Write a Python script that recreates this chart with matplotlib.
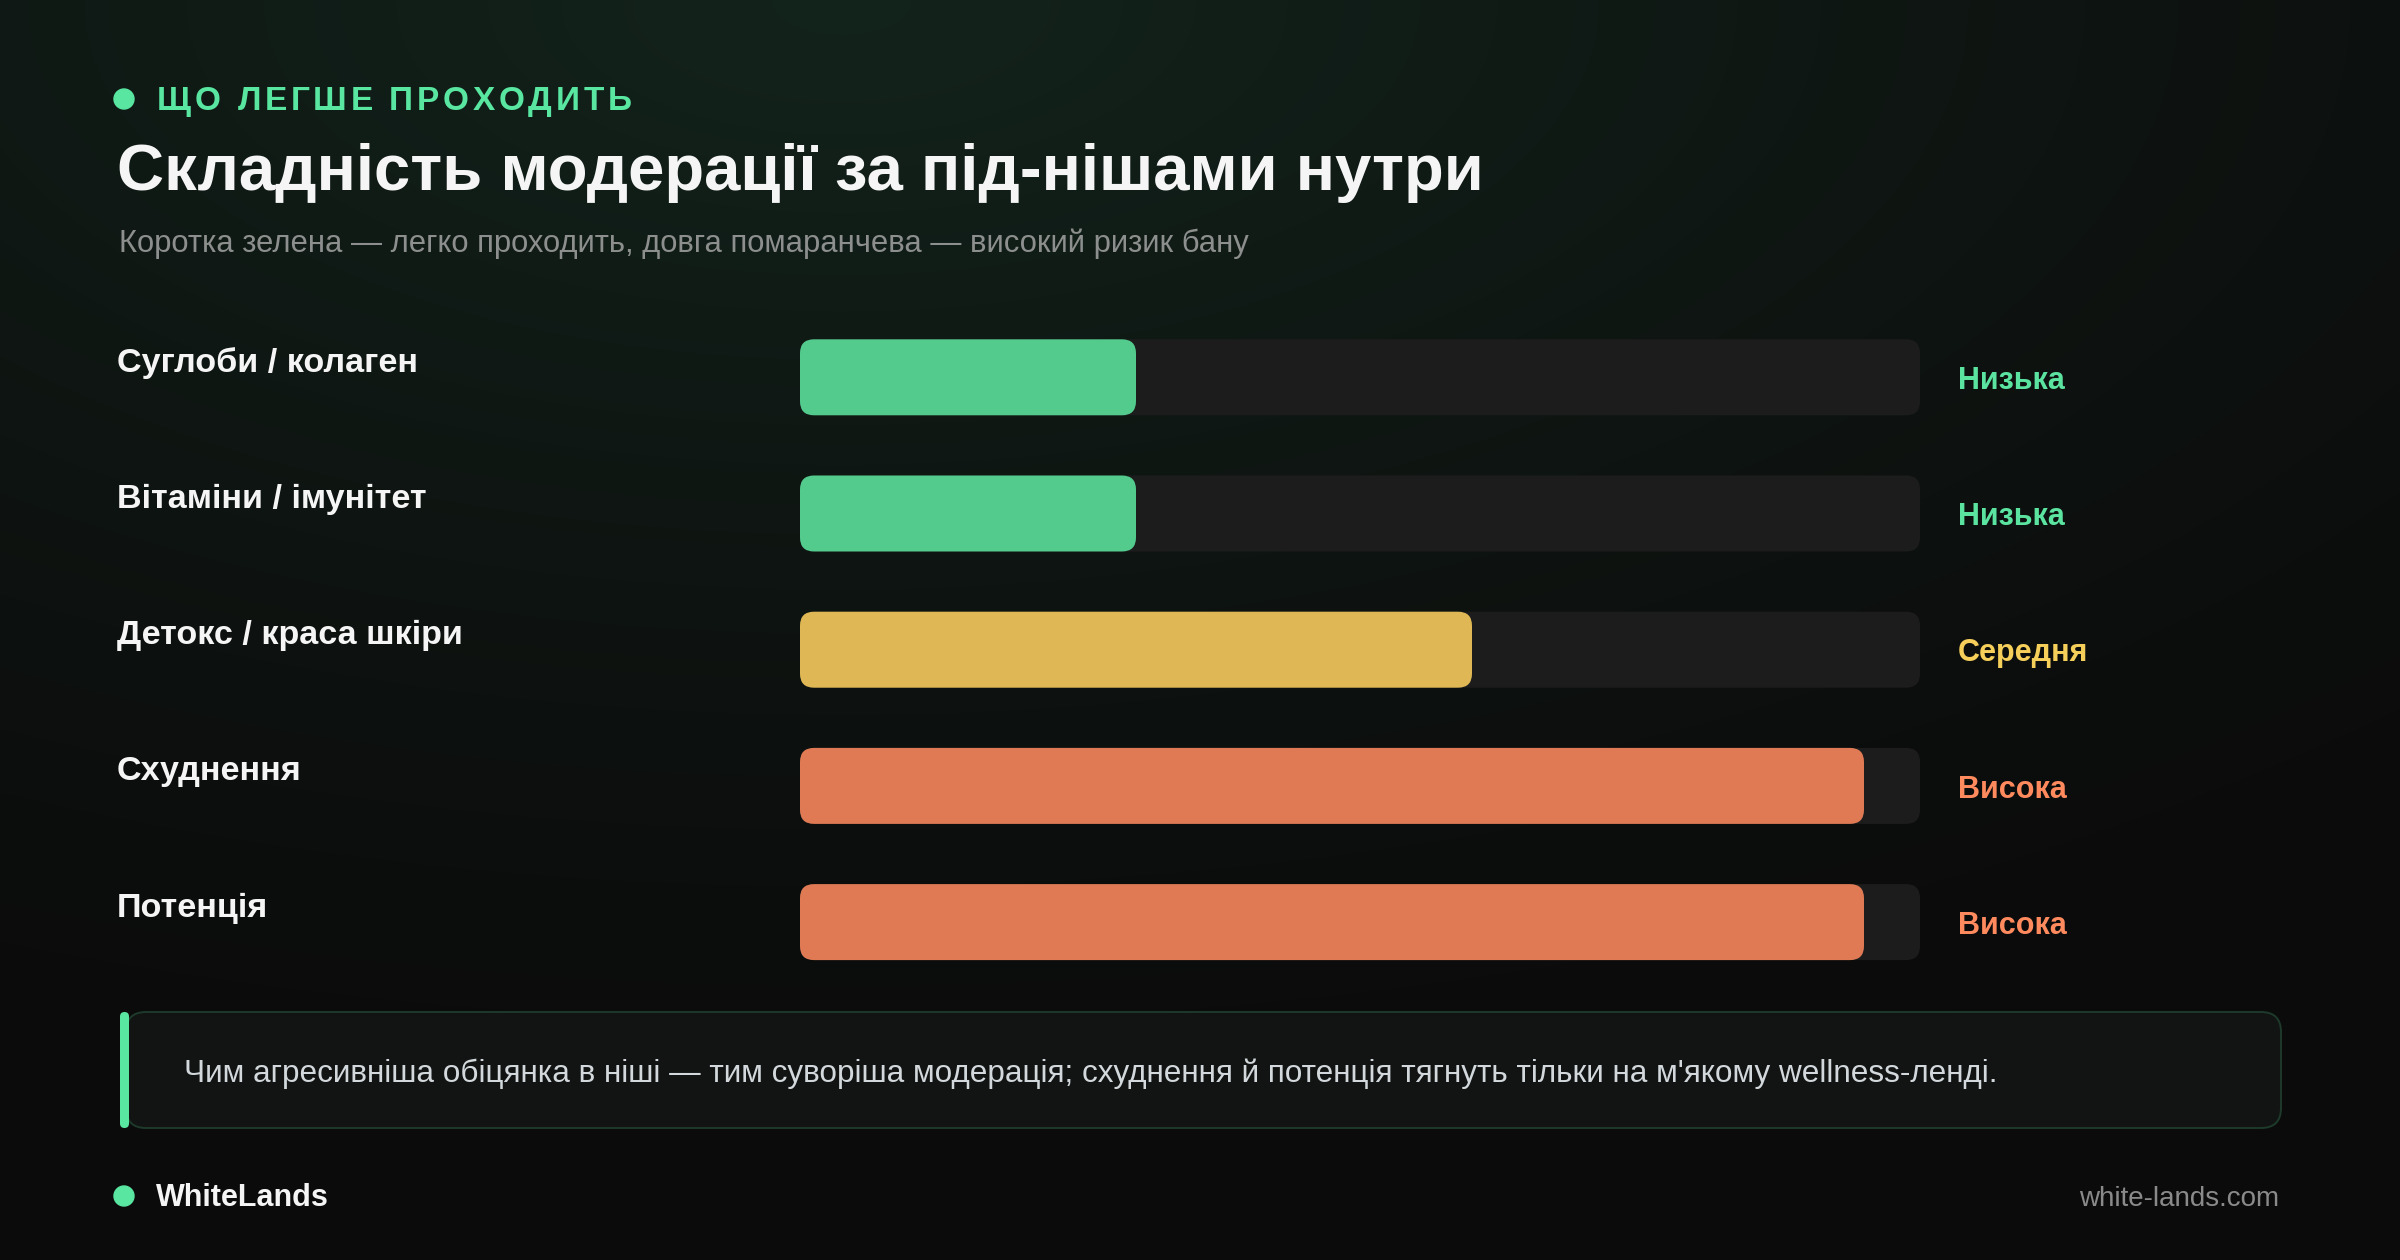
import numpy as np
import matplotlib
matplotlib.use("Agg")
import matplotlib.pyplot as plt
from matplotlib.colors import to_rgb
from matplotlib.font_manager import FontProperties, findfont
from matplotlib.ft2font import FT2Font
from matplotlib.patches import Circle, FancyBboxPatch


W, H, DPI = 2400, 1260, 100

KICKER = "ЩО ЛЕГШЕ ПРОХОДИТЬ"
TITLE = "Складність модерації за під-нішами нутри"
SUBTITLE = "Коротка зелена — легко проходить, довга помаранчева — високий ризик бану"
NICHES = ["Суглоби / колаген", "Вітаміни / імунітет", "Детокс / краса шкіри", "Схуднення", "Потенція"]
DIFFICULTY = [30, 30, 60, 95, 95]
LEVELS = ["Низька", "Низька", "Середня", "Висока", "Висока"]
NOTE = "Чим агресивніша обіцянка в ніші — тим суворіша модерація; схуднення й потенція тягнуть тільки на м'якому wellness-ленді."
BRAND = "WhiteLands"
SITE = "white-lands.com"

FILL_COLORS = {"Низька": "#52CB8D", "Середня": "#DFB855", "Висока": "#DF7A55"}
TEXT_COLORS = {"Низька": "#5BE3A0", "Середня": "#F6CF5A", "Висока": "#FF8A5E"}
ACCENT = "#58E6A0"
TRACK = "#1C1C1C"

plt.rcParams["font.family"] = ["Liberation Sans", "DejaVu Sans"]


def spaced_text(ax, x, y, text, size, spacing, **kw):
    # matplotlib has no letter-spacing, so walk the glyph advances by hand
    font = FT2Font(findfont(FontProperties(family="Liberation Sans", weight="bold")))
    font.set_size(size, DPI)
    for ch in text:
        ax.text(x, y, ch, fontsize=size, fontweight="bold", ha="left", va="baseline", **kw)
        x += font.load_char(ord(ch)).linearHoriAdvance / 65536 + spacing


fig = plt.figure(figsize=(W / DPI, H / DPI), dpi=DPI)
bg = fig.add_axes([0, 0, 1, 1])
bg.set_xlim(0, W)
bg.set_ylim(H, 0)
bg.axis("off")

# soft green glow from the top, fading to near-black
yy, xx = np.mgrid[0:H:4, 0:W:4]
dist = np.sqrt(((xx - 0.35 * W) / (1.0 * W)) ** 2 + (yy / (0.9 * H)) ** 2)
glow = np.clip(1 - dist, 0, 1) ** 1.4
base, tint = np.array(to_rgb("#0B0B0B")), np.array(to_rgb("#13241C"))
bg.imshow(base + (tint - base) * glow[..., None], extent=(0, W, H, 0), aspect="auto",
          interpolation="bilinear", zorder=0)

# header
bg.add_patch(Circle((124, 99), 10, color=ACCENT, zorder=2))
spaced_text(bg, 157, 110, KICKER, 24, 3.7, color=ACCENT)
bg.text(117, 190, TITLE, fontsize=47, fontweight="bold", color="#F5F5F5", ha="left", va="baseline")
bg.text(119, 252, SUBTITLE, fontsize=22.3, color="#8C8F8D", ha="left", va="baseline")

# bars
row_px = 136.2
ax = fig.add_axes([800 / W, 1 - (377.3 + 4.5 * row_px) / H, 1120 / W, 5 * row_px / H])
ax.set_xlim(0, 100)
ax.set_ylim(len(NICHES) - 0.5, -0.5)
ax.axis("off")

bar_h = 76 / row_px
aspect = (1120 / 100) / row_px
radius = 14 / (1120 / 100)
for i, (niche, value, level) in enumerate(zip(NICHES, DIFFICULTY, LEVELS)):
    ax.add_patch(FancyBboxPatch((0, i - bar_h / 2), 100, bar_h, boxstyle=f"round,pad=0,rounding_size={radius}",
                                mutation_aspect=aspect, fc=TRACK, ec="none"))
    ax.add_patch(FancyBboxPatch((0, i - bar_h / 2), value, bar_h, boxstyle=f"round,pad=0,rounding_size={radius}",
                                mutation_aspect=aspect, fc=FILL_COLORS[level], ec="none"))
    ax.text(-0.6098, i - 0.04, niche, transform=ax.get_yaxis_transform(), fontsize=24.6, fontweight="bold",
            color="#F5F5F5", ha="left", va="baseline")
    ax.text(1.034, i + 0.086, level, transform=ax.get_yaxis_transform(), fontsize=22, fontweight="bold",
            color=TEXT_COLORS[level], ha="left", va="baseline")

# callout
bg.add_patch(FancyBboxPatch((126, 1012), 2281 - 126, 116, boxstyle="round,pad=0,rounding_size=20",
                            fc="#111412", ec="#1E3A2C", lw=1.4, zorder=1))
bg.add_patch(FancyBboxPatch((120, 1012), 9, 116, boxstyle="round,pad=0,rounding_size=4.5",
                            fc=ACCENT, ec="none", zorder=2))
bg.text(184, 1082, NOTE, fontsize=22.7, color="#D3D8DC", ha="left", va="baseline")

# footer
bg.add_patch(Circle((124, 1196), 10, color=ACCENT, zorder=2))
bg.text(156, 1206, BRAND, fontsize=22, fontweight="bold", color="#F5F5F5", ha="left", va="baseline")
bg.text(2279, 1206, SITE, fontsize=20, color="#8A8A8A", ha="right", va="baseline")

fig.savefig("out.png", dpi=DPI, facecolor="#0B0B0B")
